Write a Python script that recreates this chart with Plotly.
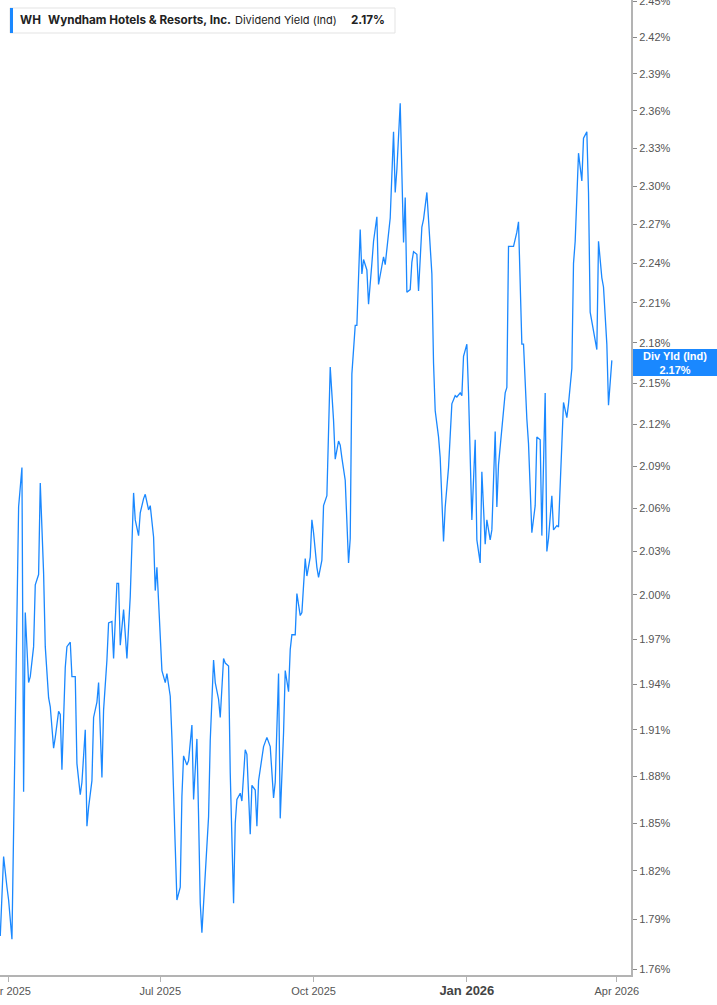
import math
import plotly.graph_objects as go

dates = [
    "2025-03-27", "2025-03-29", "2025-03-31", "2025-04-01", "2025-04-03", "2025-04-05", "2025-04-06", "2025-04-07",
    "2025-04-09", "2025-04-10", "2025-04-11", "2025-04-13", "2025-04-14", "2025-04-16", "2025-04-17", "2025-04-19",
    "2025-04-20", "2025-04-22", "2025-04-23", "2025-04-25", "2025-04-26", "2025-04-28", "2025-04-29", "2025-05-01",
    "2025-05-02", "2025-05-03", "2025-05-05", "2025-05-06", "2025-05-08", "2025-05-09", "2025-05-11", "2025-05-12",
    "2025-05-14", "2025-05-15", "2025-05-17", "2025-05-18", "2025-05-19", "2025-05-21", "2025-05-22", "2025-05-24",
    "2025-05-25", "2025-05-27", "2025-05-28", "2025-05-30", "2025-05-31", "2025-06-02", "2025-06-03", "2025-06-05",
    "2025-06-06", "2025-06-07", "2025-06-09", "2025-06-11", "2025-06-12", "2025-06-13", "2025-06-15", "2025-06-16",
    "2025-06-18", "2025-06-19", "2025-06-21", "2025-06-22", "2025-06-24", "2025-06-25", "2025-06-27", "2025-06-28",
    "2025-06-29", "2025-07-01",
    "2025-07-02", "2025-07-04", "2025-07-05", "2025-07-07", "2025-07-08", "2025-07-10", "2025-07-11", "2025-07-13",
    "2025-07-14", "2025-07-15", "2025-07-17", "2025-07-18", "2025-07-20", "2025-07-21", "2025-07-23", "2025-07-24",
    "2025-07-25", "2025-07-26", "2025-07-27", "2025-07-28", "2025-07-30", "2025-07-31", "2025-08-02", "2025-08-03",
    "2025-08-05", "2025-08-06", "2025-08-08", "2025-08-09", "2025-08-11", "2025-08-12", "2025-08-14", "2025-08-15",
    "2025-08-16", "2025-08-18", "2025-08-19", "2025-08-21", "2025-08-22", "2025-08-24", "2025-08-25", "2025-08-27",
    "2025-08-28", "2025-08-29", "2025-08-31", "2025-09-01", "2025-09-03", "2025-09-05", "2025-09-07", "2025-09-08",
    "2025-09-10", "2025-09-11", "2025-09-13", "2025-09-14", "2025-09-16", "2025-09-17", "2025-09-18", "2025-09-20",
    "2025-09-21", "2025-09-23", "2025-09-24", "2025-09-26", "2025-09-27", "2025-09-29", "2025-09-30",
    "2025-10-01", "2025-10-03", "2025-10-04", "2025-10-06", "2025-10-07", "2025-10-09", "2025-10-10", "2025-10-11",
    "2025-10-13", "2025-10-14", "2025-10-16", "2025-10-17", "2025-10-18", "2025-10-20", "2025-10-22", "2025-10-23",
    "2025-10-24", "2025-10-26", "2025-10-27", "2025-10-29", "2025-10-30", "2025-10-31", "2025-11-02", "2025-11-03",
    "2025-11-05", "2025-11-06", "2025-11-08", "2025-11-09", "2025-11-11", "2025-11-12", "2025-11-13", "2025-11-15",
    "2025-11-16", "2025-11-18", "2025-11-19", "2025-11-20", "2025-11-22", "2025-11-24", "2025-11-25", "2025-11-26",
    "2025-11-28", "2025-11-29", "2025-11-30", "2025-12-02", "2025-12-03", "2025-12-05", "2025-12-06", "2025-12-08",
    "2025-12-09", "2025-12-11", "2025-12-12", "2025-12-13", "2025-12-15", "2025-12-16", "2025-12-18", "2025-12-19",
    "2025-12-21", "2025-12-22", "2025-12-23", "2025-12-25", "2025-12-26", "2025-12-28", "2025-12-29", "2025-12-30",
    "2026-01-01", "2026-01-02", "2026-01-04", "2026-01-06", "2026-01-07", "2026-01-09", "2026-01-10", "2026-01-12",
    "2026-01-13", "2026-01-15", "2026-01-16", "2026-01-18", "2026-01-19", "2026-01-20", "2026-01-22", "2026-01-24",
    "2026-01-25", "2026-01-26", "2026-01-28", "2026-01-29", "2026-01-31", "2026-02-01", "2026-02-03", "2026-02-04",
    "2026-02-06", "2026-02-07", "2026-02-09", "2026-02-11", "2026-02-12", "2026-02-14", "2026-02-15", "2026-02-17",
    "2026-02-18", "2026-02-19", "2026-02-21", "2026-02-22", "2026-02-24", "2026-02-25", "2026-02-27", "2026-02-28",
    "2026-03-02", "2026-03-03", "2026-03-05", "2026-03-06", "2026-03-07", "2026-03-09", "2026-03-11", "2026-03-12",
    "2026-03-14", "2026-03-15", "2026-03-16", "2026-03-18", "2026-03-20", "2026-03-21", "2026-03-23", "2026-03-24",
    "2026-03-26", "2026-03-27", "2026-03-29",
]

div_yield = [
    1.780, 1.829, 1.810, 1.802, 1.778, 1.925, 1.997, 2.061,
    2.089, 1.870, 1.988, 1.941, 1.945, 1.965, 2.007, 2.014,
    2.078, 2.015, 1.965, 1.931, 1.925, 1.898, 1.905, 1.922,
    1.920, 1.884, 1.951, 1.965, 1.968, 1.945, 1.945, 1.888,
    1.868, 1.876, 1.910, 1.848, 1.860, 1.877, 1.918, 1.928,
    1.941, 1.879, 1.923, 1.956, 1.981, 1.982, 1.957, 2.008,
    2.008, 1.966, 1.990, 1.957, 1.978, 1.999, 2.071, 2.052,
    2.041, 2.057, 2.067, 2.070, 2.059, 2.062, 2.040, 2.003,
    2.019, 1.971,
    1.949, 1.941, 1.947, 1.932, 1.905, 1.835, 1.802, 1.810,
    1.867, 1.893, 1.887, 1.890, 1.913, 1.865, 1.904, 1.854,
    1.800, 1.782, 1.798, 1.819, 1.854, 1.903, 1.956, 1.941,
    1.930, 1.918, 1.957, 1.954, 1.952, 1.882, 1.800, 1.850,
    1.865, 1.869, 1.864, 1.897, 1.894, 1.843, 1.874, 1.871,
    1.848, 1.877, 1.894, 1.899, 1.905, 1.899, 1.866, 1.876,
    1.947, 1.853, 1.908, 1.949, 1.935, 1.963, 1.973, 1.973,
    2.001, 1.986, 1.988, 2.025, 2.013, 2.026, 2.052,
    2.043, 2.019, 2.012, 2.024, 2.062, 2.069, 2.128, 2.162,
    2.123, 2.095, 2.108, 2.105, 2.096, 2.080, 2.022, 2.039,
    2.157, 2.193, 2.193, 2.266, 2.232, 2.243, 2.235, 2.209,
    2.240, 2.257, 2.276, 2.224, 2.238, 2.245, 2.239, 2.266,
    2.275, 2.343, 2.295, 2.313, 2.366, 2.256, 2.291, 2.218,
    2.220, 2.241, 2.249, 2.247, 2.219, 2.268, 2.274, 2.295,
    2.276, 2.232, 2.165, 2.130, 2.111, 2.096, 2.037, 2.061,
    2.089, 2.116, 2.135, 2.141, 2.140, 2.143, 2.141, 2.170,
    2.179, 2.143, 2.052, 2.109, 2.038, 2.022, 2.086, 2.035,
    2.052, 2.038, 2.045, 2.115, 2.061, 2.091, 2.118, 2.143,
    2.147, 2.253, 2.253, 2.253, 2.264, 2.272, 2.179, 2.179,
    2.124, 2.106, 2.043, 2.062, 2.111, 2.109, 2.041, 2.143,
    2.030, 2.039, 2.069, 2.045, 2.048, 2.047, 2.106, 2.136,
    2.125, 2.135, 2.161, 2.240, 2.257, 2.326, 2.304, 2.338,
    2.343, 2.295, 2.203, 2.189, 2.175, 2.257, 2.229, 2.222,
    2.179, 2.134, 2.167,
]

y_tick_labels = ["1.76%", "1.79%", "1.82%", "1.85%", "1.88%", "1.91%", "1.94%", "1.97%",
                 "2.00%", "2.03%", "2.06%", "2.09%", "2.12%", "2.15%", "2.18%", "2.21%",
                 "2.24%", "2.27%", "2.30%", "2.33%", "2.36%", "2.39%", "2.42%", "2.45%"]
x_tick_dates = ["2025-04-01", "2025-07-01", "2025-10-01", "2026-01-01", "2026-04-01"]
x_tick_labels = ["Apr 2025", "Jul 2025", "Oct 2025",
                 "<span style='font-size:13px;color:#444'><b>Jan 2026</b></span>", "Apr 2026"]

ticker = "WH"
company = "Wyndham Hotels & Resorts, Inc."
metric = "Dividend Yield (Ind)"
last_label = "2.17%"

LINE = "#1a88ff"
AXIS = "#b3b3b3"
W, H = 717, 1005
ML, MR, MT, MB = 0, 86, 0, 30
PW, PH = W - ML - MR, H - MT - MB

fig = go.Figure()
fig.add_trace(go.Scatter(x=dates, y=div_yield, mode="lines",
                         line=dict(color=LINE, width=1.3), hoverinfo="skip"))

def px_x(p):
    return (p - ML) / PW

def px_y(p):
    return 1 - (p - MT) / PH

fig.update_layout(
    width=W, height=H,
    margin=dict(l=ML, r=MR, t=MT, b=MB, autoexpand=False),
    paper_bgcolor="white", plot_bgcolor="white",
    showlegend=False,
    xaxis=dict(
        type="date", automargin=False, ticklabeloverflow="allow",
        range=["2025-03-26 20:00", "2026-04-09 12:00"],
        tickvals=x_tick_dates, ticktext=x_tick_labels,
        ticks="outside", ticklen=5, tickcolor=AXIS, tickwidth=1,
        showline=True, linecolor=AXIS, linewidth=2,
        showgrid=False, zeroline=False,
        tickfont=dict(family="Liberation Sans Narrow, Liberation Sans, Arial", size=11, color="#555"),
    ),
    yaxis=dict(
        type="log", side="right", automargin=False, ticklabeloverflow="allow",
        range=[math.log10(1.7564), math.log10(2.451)],
        tickvals=[float(t.rstrip("%")) for t in y_tick_labels],
        ticktext=y_tick_labels,
        ticks="outside", ticklen=4, tickcolor="#888", tickwidth=1,
        showline=True, linecolor=AXIS, linewidth=2, mirror=False,
        showgrid=False, zeroline=False,
        tickfont=dict(family="Liberation Sans, Arial", size=11, color="#555"),
    ),
)

# legend box (top-left)
fig.add_shape(type="rect", xref="paper", yref="paper",
              x0=px_x(10), x1=px_x(395), y0=px_y(33), y1=px_y(8),
              line=dict(color="#e3e3e3", width=1), fillcolor="white", layer="above")
fig.add_shape(type="rect", xref="paper", yref="paper",
              x0=px_x(10), x1=px_x(13), y0=px_y(33), y1=px_y(8),
              line=dict(width=0), fillcolor=LINE, layer="above")
legend_parts = [(18, f"<b>{ticker}</b>", 11.7), (46, f"<b>{company}</b>", 11.7),
                (233, metric, 11), (349, f"<b>{last_label}</b>", 11.7)]
for xp, txt, fs in legend_parts:
    fig.add_annotation(xref="paper", yref="paper", x=px_x(xp), y=px_y(20.5),
                       xanchor="left", yanchor="middle", showarrow=False, text=txt,
                       font=dict(family="Inter, Liberation Sans, Arial", size=fs, color="#222"))

# last value label on the right axis
fig.add_shape(type="rect", xref="paper", yref="paper",
              x0=px_x(633), x1=px_x(717), y0=px_y(376), y1=px_y(349),
              line=dict(width=0), fillcolor=LINE, layer="above")
fig.add_annotation(xref="paper", yref="paper", x=px_x(675), y=px_y(362.5),
                   xanchor="center", yanchor="middle", showarrow=False,
                   text=f"<b>Div Yld (Ind)</b><br><b>{last_label}</b>",
                   font=dict(family="Liberation Sans, Arial", size=11, color="white"))

fig.write_html("out.html", config={"displayModeBar": False},
               post_script="document.body.style.margin='0';")
